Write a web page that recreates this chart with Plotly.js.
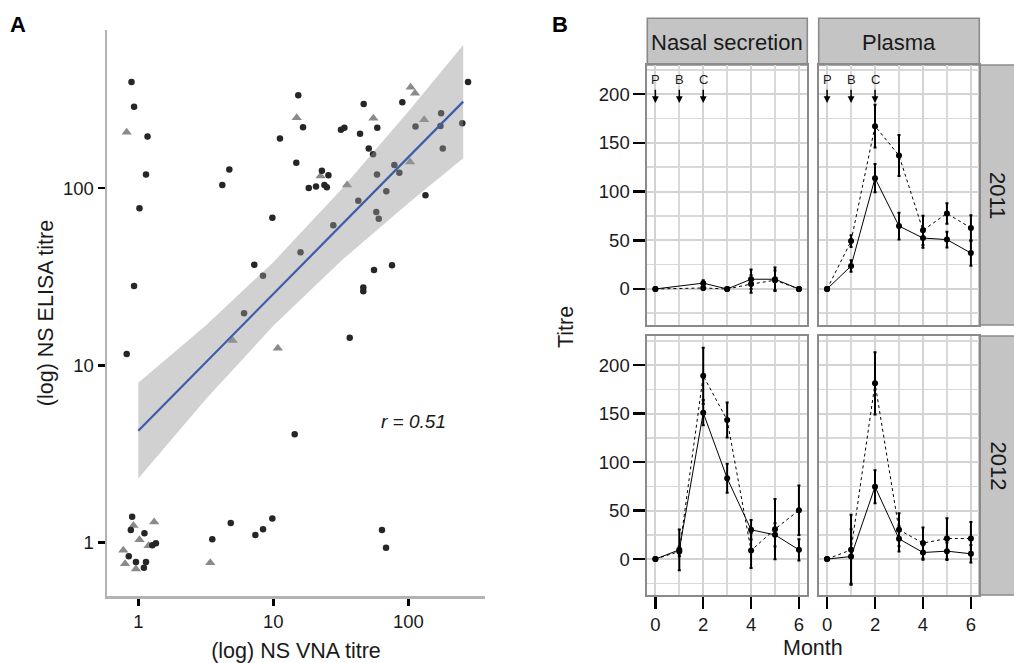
<!DOCTYPE html>
<html><head><meta charset="utf-8">
<script src="https://cdn.plot.ly/plotly-3.0.1.min.js"></script>
<style>html,body{margin:0;padding:0;background:#fff;}#chart{width:1014px;height:663px;}</style>
</head><body><div id="chart"></div>
<script>
// ---------- Panel A data ----------
const vnaCircle = [0.89,0.93,1.17,1.14,1.02,0.93,0.82,4.72,4.19,11.2,15.3,14.8,9.84,15.9,16.6,22.9,25.6,18.3,20.7,23.9,24.9,31.7,33.6,43.9,46.7,58.9,50.9,54.8,90.3,113,175,173,251,277,180,78.8,85.8,58.6,68.7,42.6,134,57.9,60.4,27.8,55.7,75.7,46.4,46.4,36.8,63.8,68.4,7.23,8.39,6.07,14.4,3.53,4.84,7.36,8.39,9.83,0.90,0.88,1.11,1.27,1.35,0.85,0.96,1.14,1.10];
const elisaCircle = [396,287,195,119,77,28,11.6,127,104,190,333,139,68,43.4,220,125,118,100,102,104,101,213,219,202,298,219,167,155,305,222,264,224,232,396,167,135,122,119,95.8,84.8,91,73.2,67.1,61.6,34.5,36.7,27.5,26.2,14.3,1.18,0.937,36.9,32.0,19.7,4.09,1.045,1.29,1.105,1.19,1.37,1.40,1.18,1.13,0.967,0.992,0.84,0.778,0.778,0.723];
const vnaTriangle = [0.82,14.9,22.4,35.2,55.1,104,112,131,103,5.0,10.8,0.92,1.31,1.02,1.19,0.774,0.797,0.96,3.41];
const elisaTriangle = [206,249,117,104,247,370,342,243,140,13.8,12.5,1.25,1.31,1.04,0.962,0.906,0.761,0.711,0.771];
// fitted line and confidence band
const fitX = [1, 255];
const fitY = [4.28, 307];
const bandX = [1, 3.16, 10, 31.6, 100, 255];
const bandUpper = [7.97, 16.8, 38.2, 97.4, 270, 641];
const bandLower = [2.30, 6.44, 16.7, 38.7, 82.1, 147];
const rLabel = 'r = 0.51';

// ---------- Panel B data ----------
const months = [0,1,2,3,4,5,6];
const nasal2011Months = [0,2,3,4,5,6];
const nasal2011Solid = [0,6,0,10,10,0];
const nasal2011SolidErr = [0,3,0,10,12,0];
const nasal2011Dotted = [0,1,0,5,9,0];
const nasal2011DottedErr = [0,2,0,9,10,0];
const plasma2011Solid = [0,23.6,113.8,64.6,52.3,50.7,36.9];
const plasma2011SolidErr = [0,6,14.5,13.7,10,8,13];
const plasma2011Dotted = [0,49.2,167.2,137.1,60.2,77.6,62.6];
const plasma2011DottedErr = [0,6,22,21,15,10.5,13];
const nasal2012Solid = [0,9.6,150.9,83.4,30.2,25,9.6];
const nasal2012SolidErr = [0,21,13,15,10,12,11];
const nasal2012Dotted = [0,7.9,189,143.4,8.9,30.9,50.4];
const nasal2012DottedErr = [0,5,29,18,18,31,25.6];
const plasma2012Solid = [0,2.7,74.7,20.9,6.8,8.2,5.5];
const plasma2012SolidErr = [0,28,17,13,7.5,9,9];
const plasma2012Dotted = [0,9.6,181.2,30.2,16.5,21.2,21.2];
const plasma2012DottedErr = [0,36,32,17,16,21,17];
const eventMonths = [0,1,2];
const eventLabels = ['P','B','C'];
const colLabels = ['Nasal secretion','Plasma'];
const rowLabels = ['2011','2012'];

const FONT = 'Liberation Sans, Arial, Helvetica, sans-serif';
const TXT = '#1a1a1a';
const W = 1014, H = 663;
const px = v => v / W;
const py = v => 1 - v / H;

const traces = [];
traces.push({x: vnaTriangle, y: elisaTriangle, type:'scatter', mode:'markers', xaxis:'x', yaxis:'y',
  marker:{symbol:'triangle-up', size:9, color:'#8a8a8a'}, showlegend:false, hoverinfo:'x+y'});
traces.push({x: vnaCircle, y: elisaCircle, type:'scatter', mode:'markers', xaxis:'x', yaxis:'y',
  marker:{symbol:'circle', size:6.5, color:'#262626'}, showlegend:false, hoverinfo:'x+y'});
traces.push({x: bandX.concat(bandX.slice().reverse()), y: bandUpper.concat(bandLower.slice().reverse()),
  type:'scatter', mode:'lines', fill:'toself', fillcolor:'rgba(153,153,153,0.45)', line:{width:0},
  xaxis:'x', yaxis:'y', showlegend:false, hoverinfo:'skip'});
traces.push({x: fitX, y: fitY, type:'scatter', mode:'lines', line:{color:'#3f5bab', width:2.2},
  xaxis:'x', yaxis:'y', showlegend:false});

function addSeries(xs, ys, errs, dash, xa, ya) {
  traces.push({x: xs, y: ys, type:'scatter', mode:'lines+markers', xaxis:xa, yaxis:ya,
    line:{color:'#000', width:1, dash:dash}, marker:{color:'#000', size:6},
    error_y:{type:'data', array:errs, visible:true, color:'#000', thickness:2, width:1.5},
    showlegend:false});
}
addSeries(nasal2011Months, nasal2011Dotted, nasal2011DottedErr, 'dot', 'x2', 'y2');
addSeries(nasal2011Months, nasal2011Solid, nasal2011SolidErr, 'solid', 'x2', 'y2');
addSeries(months, plasma2011Dotted, plasma2011DottedErr, 'dot', 'x3', 'y3');
addSeries(months, plasma2011Solid, plasma2011SolidErr, 'solid', 'x3', 'y3');
addSeries(months, nasal2012Dotted, nasal2012DottedErr, 'dot', 'x4', 'y4');
addSeries(months, nasal2012Solid, nasal2012SolidErr, 'solid', 'x4', 'y4');
addSeries(months, plasma2012Dotted, plasma2012DottedErr, 'dot', 'x5', 'y5');
addSeries(months, plasma2012Solid, plasma2012SolidErr, 'solid', 'x5', 'y5');

const colL = [px(647), px(807.3)];
const colR = [px(818.7), px(979.3)];
const rowT = [py(325), py(65)];
const rowB = [py(595), py(336)];

function bx(domain, anchor, labels) {
  return {domain: domain, anchor: anchor, range:[-0.35, 6.35], tickmode:'linear', tick0:0, dtick:2,
    showticklabels: labels, ticks: labels ? 'outside' : '', ticklen:12, tickwidth:2.5, tickcolor:'#000',
    tickfont:{family:FONT, size:18.5, color:TXT},
    showgrid:true, gridcolor:'#d3d3d3', gridwidth:2,
    minor:{dtick:1, tick0:0, showgrid:true, gridcolor:'#d9d9d9', gridwidth:1.7},
    zeroline:false, showline:true, mirror:true, linecolor:'#8a8a8a', linewidth:1.6};
}
function by(domain, anchor, labels) {
  return {domain: domain, anchor: anchor, range:[-37, 230], tickmode:'linear', tick0:0, dtick:50,
    showticklabels: labels, ticks: labels ? 'outside' : '', ticklen:12, tickwidth:2.5, tickcolor:'#000',
    tickfont:{family:FONT, size:18.5, color:TXT},
    showgrid:true, gridcolor:'#d3d3d3', gridwidth:2,
    minor:{dtick:25, tick0:0, showgrid:true, gridcolor:'#d9d9d9', gridwidth:1.7},
    zeroline:false, showline:true, mirror:true, linecolor:'#8a8a8a', linewidth:1.6};
}

function note(text, x, y, size, extra) {
  return Object.assign({text:text, x:px(x), y:py(y), xref:'paper', yref:'paper', xanchor:'center', yanchor:'middle',
    showarrow:false, font:{family:FONT, size:size, color:TXT}}, extra || {});
}
const annotations = [
  note('<b>A</b>', 18, 25, 22, {font:{family:FONT, size:22, color:'#000'}}),
  note('<b>B</b>', 560, 25, 22, {font:{family:FONT, size:22, color:'#000'}}),
  note('<i>' + rLabel + '</i>', 413, 421, 19),
  note(colLabels[0], 727.3, 42, 22),
  note(colLabels[1], 899, 42, 22),
  note(rowLabels[0], 998, 195, 22, {textangle:90}),
  note(rowLabels[1], 998, 465.5, 22, {textangle:90}),
  note('Titre', 566, 327, 21.5, {textangle:-90}),
  note('Month', 813, 648, 21.5)
];
[['x2','y2'],['x3','y3']].forEach(([xa, ya]) => {
  eventMonths.forEach((m, i) => {
    annotations.push({text:eventLabels[i], x:m, y:215, xref:xa, yref:ya, xanchor:'center', yanchor:'middle', showarrow:false, font:{family:FONT, size:13, color:TXT}});
    annotations.push({text:'', x:m, y:191, ax:m, ay:206, xref:xa, yref:ya, axref:xa, ayref:ya, showarrow:true,
      arrowhead:2, arrowsize:0.9, arrowwidth:1.5, arrowcolor:'#000'});
  });
});

const shapes = [
  {type:'rect', xref:'paper', yref:'paper', x0:px(647.3), x1:px(807.3), y0:py(65), y1:py(18.3), fillcolor:'#c4c4c4', line:{color:'#8a8a8a', width:1.6}, layer:'below'},
  {type:'rect', xref:'paper', yref:'paper', x0:px(818.7), x1:px(979.3), y0:py(65), y1:py(18.3), fillcolor:'#c4c4c4', line:{color:'#8a8a8a', width:1.6}, layer:'below'},
  {type:'rect', xref:'paper', yref:'paper', x0:px(979.3), x1:px(1016), y0:py(325), y1:py(65), fillcolor:'#c4c4c4', line:{color:'#8a8a8a', width:1.6}, layer:'below'},
  {type:'rect', xref:'paper', yref:'paper', x0:px(979.3), x1:px(1016), y0:py(595), y1:py(336), fillcolor:'#c4c4c4', line:{color:'#8a8a8a', width:1.6}, layer:'below'}
];

const layout = {
  width: W, height: H, margin:{l:0, r:0, t:0, b:0}, paper_bgcolor:'#fff', plot_bgcolor:'#fff',
  font:{family:FONT, color:TXT}, showlegend:false,
  xaxis:{domain:[px(107), px(485)], anchor:'y', type:'log', range:[-0.232, 2.568],
    tickmode:'array', tickvals:[1,10,100], ticktext:['1','10','100'],
    ticks:'outside', ticklen:7, tickwidth:2.5, tickcolor:'#000', tickfont:{family:FONT, size:18.5, color:TXT},
    showline:true, linecolor:'#b3b3b3', linewidth:2.5, showgrid:false, zeroline:false,
    title:{text:'(log) NS VNA titre', font:{family:FONT, size:21.5, color:TXT}}},
  yaxis:{domain:[py(596), py(30)], anchor:'x', type:'log', range:[-0.3005, 2.891],
    tickmode:'array', tickvals:[1,10,100], ticktext:['1','10','100'],
    ticks:'outside', ticklen:7, tickwidth:2.5, tickcolor:'#000', tickfont:{family:FONT, size:18.5, color:TXT},
    showline:true, linecolor:'#b3b3b3', linewidth:2.5, showgrid:false, zeroline:false,
    title:{text:'(log) NS ELISA titre', font:{family:FONT, size:21.5, color:TXT}}},
  xaxis2: bx(colL, 'y2', false),
  yaxis2: by(rowT, 'x2', true),
  xaxis3: bx(colR, 'y3', false),
  yaxis3: by(rowT, 'x3', false),
  xaxis4: bx(colL, 'y4', true),
  yaxis4: by(rowB, 'x4', true),
  xaxis5: bx(colR, 'y5', true),
  yaxis5: by(rowB, 'x5', false),
  annotations: annotations,
  shapes: shapes
};
Plotly.newPlot('chart', traces, layout, {displayModeBar:false, staticPlot:true});
</script>
</body></html>
